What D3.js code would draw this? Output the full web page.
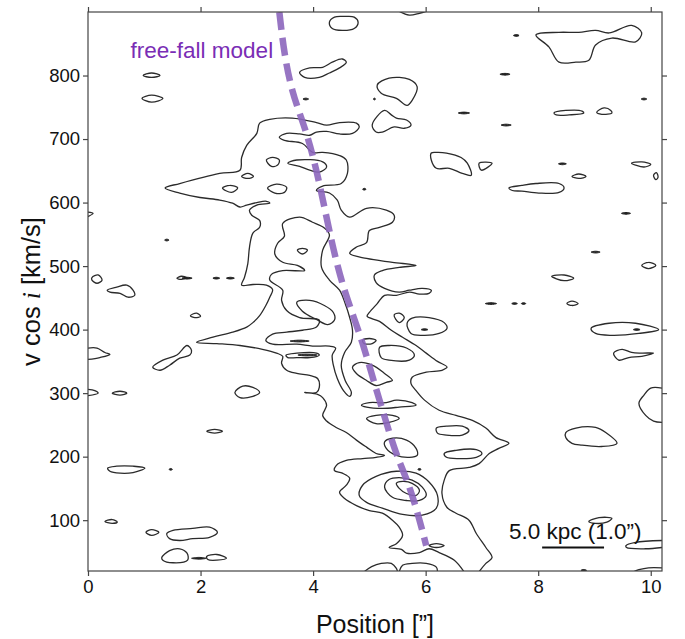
<!DOCTYPE html>
<html><head><meta charset="utf-8">
<script src="https://cdn.jsdelivr.net/npm/d3@7"></script>
<style>
html,body{margin:0;padding:0;background:#fff;}
svg{display:block;font-family:"Liberation Sans",Arial,Helvetica,sans-serif;}
</style></head>
<body>
<svg id="chart" width="685" height="639"></svg>
<script>
// ---- axes / ticks ----
const xDomain = [0, 10.2];
const yDomain = [20, 900];
const xTicks = [0, 2, 4, 6, 8, 10];
const yTicks = [100, 200, 300, 400, 500, 600, 700, 800];

// ---- main (lowest-level) contour: [position, velocity] ----
const mainContour = [[6.95,19],[7.07,32],[7.18,41],[7.07,57],[6.90,79],[6.77,100],[6.54,111],[6.38,120],[6.29,142],[6.33,163],[6.42,178],[6.77,183],[6.95,189],[7.13,205],[7.30,213],[7.48,221],[7.25,230],[7.07,245],[6.83,257],[6.54,265],[6.24,273],[5.98,289],[5.83,304],[5.74,315],[5.76,325],[6.01,333],[6.29,336],[6.38,341],[6.21,350],[6.01,363],[5.83,375],[5.59,388],[5.39,399],[5.18,413],[4.96,421],[5.00,427],[5.14,441],[5.27,454],[5.48,454],[5.71,459],[5.89,456],[6.06,457],[6.10,462],[5.94,465],[5.71,462],[5.53,459],[5.27,465],[5.12,474],[5.09,486],[5.23,493],[5.53,498],[5.83,501],[5.41,506],[4.95,512],[4.65,520],[4.77,530],[4.95,537],[5.00,556],[5.18,561],[5.41,569],[5.44,580],[5.30,588],[4.95,591],[4.65,577],[4.50,588],[4.43,604],[4.29,615],[4.06,619],[4.17,626],[4.50,630],[4.61,646],[4.59,667],[4.47,674],[4.17,679],[3.99,679],[3.81,693],[3.49,698],[3.40,703],[3.53,709],[3.76,708],[3.94,706],[4.06,711],[4.24,712],[4.47,708],[4.70,709],[4.82,719],[4.77,725],[4.47,726],[4.24,722],[4.06,726],[3.63,733],[3.23,731],[3.05,725],[3.00,709],[2.82,690],[2.73,671],[2.70,651],[2.34,646],[1.63,630],[1.37,623],[1.63,615],[1.99,608],[2.34,604],[2.57,599],[2.70,593],[2.82,596],[3.00,600],[3.17,602],[3.23,599],[3.00,596],[2.87,588],[2.91,580],[3.05,572],[3.05,561],[2.93,552],[2.87,530],[2.84,504],[2.78,482],[2.73,470],[2.93,471],[3.17,470],[3.28,463],[3.23,451],[3.16,438],[3.05,422],[2.93,411],[2.82,404],[2.57,396],[2.22,388],[1.93,380],[2.29,378],[2.70,375],[3.10,369],[3.35,363],[3.46,358],[3.44,347],[3.53,336],[3.71,331],[3.94,328],[4.08,323],[4.11,309],[4.06,301],[3.85,301],[4.08,298],[4.17,293],[4.24,281],[4.17,265],[4.24,256],[4.41,246],[4.59,238],[4.77,226],[4.95,215],[5.12,205],[5.27,202],[5.12,199],[4.88,197],[4.59,194],[4.41,186],[4.38,178],[4.52,174],[4.65,166],[4.59,155],[4.47,144],[4.56,134],[4.77,123],[5.00,115],[5.23,111],[5.41,100],[5.53,89],[5.59,76],[5.48,63],[5.35,57],[5.57,54],[5.66,48],[5.89,49],[6.06,55],[6.24,49],[6.51,37],[6.68,19]];

// ---- open contours cut by the frame ----
const edgeContours = [
  [[4.91,19],[5.04,27],[5.21,32],[5.39,32],[5.48,24],[5.50,19]],
  [[5.53,19],[5.59,29],[5.76,32],[6.01,32],[6.19,26],[6.21,19]],
  [[10.2,308],[10.0,308],[9.88,297],[9.79,284],[9.91,265],[10.05,256],[10.2,254]],
  [[10.2,68],[9.73,65],[9.56,60],[9.57,57],[9.91,55],[10.2,57]],
  [[9.70,19],[9.79,22],[9.96,25],[10.2,25]],
  [[0,371],[0.16,371],[0.30,364],[0.39,361],[0.21,356],[0,353]],
  [[0,306],[0.12,304],[0.18,300],[0,296]],
  [[0,585],[0.09,583],[0,578]],
  [[5.53,901],[5.71,895],[5.89,898],[6.01,901]]
];

// ---- higher-level contours inside the emission ----
const innerContours = [
  [[3.46,567],[3.76,577],[3.99,569],[4.20,560],[4.29,549],[4.17,525],[4.15,498],[4.29,478],[4.47,462],[4.57,441],[4.65,419],[4.70,399],[4.68,380],[4.56,364],[4.50,344],[4.57,320],[4.68,301],[4.65,295],[4.54,304],[4.43,323],[4.36,344],[4.34,360],[4.40,371],[4.29,374],[3.99,374],[3.71,377],[3.28,377],[3.16,383],[3.28,393],[3.53,396],[3.81,399],[4.06,404],[4.11,415],[3.76,419],[3.53,430],[3.44,446],[3.46,462],[3.23,478],[3.26,487],[3.46,493],[3.85,493],[3.72,501],[3.46,506],[3.32,519],[3.37,536],[3.49,547]],
  [[3.52,360],[3.71,363],[4.06,363],[4.11,360],[3.94,356],[3.71,356],[3.55,356]],
  [[3.71,443],[3.94,446],[4.20,438],[4.36,427],[4.38,415],[4.26,408],[4.06,416],[3.81,429]],
  [[4.70,341],[4.82,348],[5.05,344],[5.27,331],[5.41,320],[5.30,317],[5.12,312],[4.95,320],[4.77,331]],
  [[4.86,281],[5.00,285],[5.30,285],[5.48,289],[5.76,285],[5.83,281],[5.53,278],[5.23,276],[4.95,278]],
  [[4.95,260],[5.12,265],[5.41,265],[5.53,260],[5.35,254],[5.12,252]],
  [[4.88,383],[5.00,386],[5.12,383],[5.05,378],[4.91,378]],
  [[5.27,223],[5.41,229],[5.66,226],[5.83,213],[5.85,202],[5.71,199],[5.48,202],[5.30,213]],
  [[4.82,139],[4.88,155],[5.12,169],[5.48,177],[5.83,174],[6.06,160],[6.21,139],[6.19,119],[5.94,108],[5.59,109],[5.23,119],[4.95,128]],
  [[5.27,152],[5.35,164],[5.53,167],[5.76,163],[5.94,152],[6.01,139],[5.89,131],[5.66,131],[5.41,136]],
  [[5.48,158],[5.59,161],[5.76,158],[5.89,147],[5.83,139],[5.66,142],[5.53,150]],
  [[3.55,662],[3.71,667],[4.17,664],[4.24,656],[4.11,648],[3.94,651],[3.76,657]],
  [[3.17,667],[3.28,671],[3.40,667],[3.37,659],[3.26,657]],
  [[3.19,623],[3.35,629],[3.53,624],[3.49,616],[3.32,615]],
  [[2.73,641],[2.84,646],[2.94,641],[2.84,638]],
  [[2.39,623],[2.52,627],[2.66,623],[2.55,616]],
  [[3.72,525],[3.81,528],[3.90,525],[3.81,519]],
  [[5.18,372],[5.35,375],[5.66,371],[5.80,360],[5.71,352],[5.35,352],[5.21,356]],
  [[5.44,423],[5.53,426],[5.62,419],[5.53,411]],
  [[5.67,410],[5.76,418],[6.06,419],[6.33,411],[6.38,402],[6.24,394],[5.94,391],[5.74,394]],
  [[6.19,245],[6.37,248],[6.65,248],[6.77,241],[6.65,234],[6.37,234],[6.21,237]],
  [[6.33,205],[6.54,210],[6.90,211],[7.00,205],[6.90,199],[6.60,197],[6.37,199]],
  [[6.06,60],[6.19,63],[6.33,60],[6.19,57]]
];

// ---- isolated noise contours ----
const blobs = [
  [[0.98,800],[1.13,804],[1.28,800],[1.13,797]],
  [[0.96,764],[1.13,769],[1.33,764],[1.13,758]],
  [[4.29,884],[4.38,892],[4.56,893],[4.73,892],[4.80,884],[4.73,874],[4.52,871],[4.34,874]],
  [[3.76,805],[3.94,812],[4.17,813],[4.34,821],[4.52,826],[4.59,821],[4.47,812],[4.29,804],[4.11,797],[3.85,797]],
  [[5.14,785],[5.35,796],[5.71,794],[5.85,782],[5.76,761],[5.67,753],[5.48,764],[5.21,772]],
  [[5.05,722],[5.27,745],[5.39,738],[5.48,733],[5.66,730],[5.74,722],[5.62,717],[5.44,719],[5.23,711],[5.12,711]],
  [[6.10,678],[6.19,679],[6.37,678],[6.63,671],[6.74,662],[6.81,643],[6.65,646],[6.42,654],[6.19,654],[6.10,667]],
  [[6.95,662],[7.18,662],[6.99,651]],
  [[7.96,864],[8.37,868],[8.72,868],[9.02,871],[9.26,867],[9.66,879],[9.84,867],[9.73,853],[9.31,859],[9.02,848],[8.90,824],[8.67,821],[8.37,821],[8.19,845]],
  [[8.28,741],[8.49,745],[8.78,744],[8.81,741],[8.55,738],[8.32,738]],
  [[9.04,742],[9.17,749],[9.29,745],[9.31,741],[9.13,739]],
  [[7.48,623],[7.71,627],[7.96,630],[8.37,630],[8.46,623],[8.37,616],[8.01,615],[7.71,618],[7.54,619]],
  [[8.60,641],[8.72,645],[8.85,641],[8.72,638]],
  [[9.66,662],[9.84,664],[10.0,660],[9.88,656]],
  [[10.05,643],[10.10,647],[10.13,640],[10.09,636]],
  [[9.84,501],[9.96,506],[10.09,501],[9.96,496]],
  [[8.24,484],[8.46,486],[8.63,481],[8.46,477]],
  [[8.51,441],[8.60,445],[8.71,441],[8.60,438]],
  [[8.94,402],[9.26,410],[9.73,410],[10.14,400],[9.79,394],[9.31,391],[9.02,394]],
  [[9.34,363],[9.49,369],[9.66,364],[9.84,363],[10.05,363],[9.84,358],[9.61,356],[9.43,352]],
  [[8.49,238],[8.67,245],[9.02,246],[9.20,238],[9.40,221],[9.13,216],[8.78,218],[8.60,221],[8.49,230]],
  [[8.90,98],[9.08,104],[9.31,103],[9.22,97],[9.02,95]],
  [[1.82,422],[1.93,426],[2.00,421],[1.90,419]],
  [[1.15,341],[1.33,352],[1.58,360],[1.76,375],[1.84,367],[1.81,360],[1.63,355],[1.45,344],[1.28,336]],
  [[0.43,300],[0.57,303],[0.69,300],[0.57,297]],
  [[2.61,301],[2.75,311],[2.93,309],[3.05,301],[2.93,295],[2.70,293]],
  [[2.11,240],[2.25,243],[2.39,240],[2.25,237]],
  [[0.35,182],[0.51,185],[0.80,185],[1.01,182],[0.80,175],[0.57,174],[0.39,177]],
  [[0.30,98],[0.43,101],[0.52,97],[0.43,95]],
  [[1.03,81],[1.13,85],[1.26,81],[1.13,76]],
  [[1.40,79],[1.51,84],[1.86,87],[2.16,89],[2.30,81],[2.16,73],[1.86,71],[1.63,68],[1.45,71]],
  [[1.31,41],[1.45,52],[1.63,55],[1.76,48],[1.77,37],[1.51,33],[1.33,37]],
  [[2.11,43],[2.29,46],[2.46,40],[2.29,37],[2.13,38]],
  [[0.07,482],[0.18,486],[0.25,478],[0.16,473],[0.07,478]],
  [[0.34,462],[0.51,467],[0.69,470],[0.80,462],[0.83,454],[0.71,451],[0.57,457],[0.39,459]],
  [[1.58,481],[1.66,484],[1.75,482],[1.66,479]]
];

// ---- tiny dark peaks: [position, velocity, half-length in position] ----
const specks = [
  [3.87,763,0.05],[7.41,802,0.09],[6.68,741,0.10],[7.43,722,0.09],[7.61,863,0.05],[9.88,763,0.05],
  [8.43,661,0.07],[9.56,583,0.08],[9.02,522,0.08],[7.16,441,0.10],[7.58,441,0.05],[7.74,441,0.04],
  [9.75,400,0.06],[5.98,400,0.06],[1.47,180,0.03],[1.97,40,0.13],[1.40,541,0.04],[1.76,481,0.09],
  [2.28,481,0.06],[2.53,481,0.07],[3.76,382,0.17],[3.90,360,0.17],[5.89,180,0.03],[8.81,21,0.05],
  [4.91,621,0.03],[5.09,763,0.02]
];

// ---- free-fall model ----
const freeFall = [[3.40,900],[3.63,777],[3.88,709],[4.56,462],[4.88,378],[5.18,289],[5.48,205],[5.71,152],[6.01,60]];

// ---- scale bar ----
const scaleBar = [[8.07,57],[9.17,57]];

// ================= drawing =================
const svg = d3.select("#chart");
const m = {left:88, right:23, top:12, bottom:68};
const W = 685, H = 639;
const x = d3.scaleLinear().domain(xDomain).range([m.left, W - m.right]);
const y = d3.scaleLinear().domain(yDomain).range([H - m.bottom, m.top]);

svg.append("defs").append("clipPath").attr("id","clip")
  .append("rect").attr("x",x(xDomain[0])).attr("y",y(yDomain[1]))
  .attr("width",x(xDomain[1])-x(xDomain[0])).attr("height",y(yDomain[0])-y(yDomain[1]));

const g = svg.append("g").attr("clip-path","url(#clip)");

const openLine = d3.line().x(d=>x(d[0])).y(d=>y(d[1])).curve(d3.curveCatmullRom.alpha(0.5));
const closedLine = d3.line().x(d=>x(d[0])).y(d=>y(d[1])).curve(d3.curveCatmullRomClosed.alpha(0.5));

const cStyle = sel => sel.attr("fill","none").attr("stroke","#2b2b2b").attr("stroke-width",1.3).attr("stroke-linejoin","round");

g.append("path").datum(mainContour).attr("d",openLine).call(cStyle);
g.selectAll(".edge").data(edgeContours).join("path").attr("class","edge").attr("d",openLine).call(cStyle);
g.selectAll(".inner").data(innerContours).join("path").attr("class","inner").attr("d",closedLine).call(cStyle);
g.selectAll(".blob").data(blobs).join("path").attr("class","blob").attr("d",closedLine).call(cStyle);
g.selectAll(".speck").data(specks).join("path").attr("class","speck")
  .attr("d", d => closedLine([[d[0]-d[2],d[1]],[d[0],d[1]+1.4],[d[0]+d[2],d[1]],[d[0],d[1]-1.4]]))
  .attr("fill","#222").attr("stroke","#222").attr("stroke-width",1);

// free-fall dashed line
g.append("path").datum(freeFall).attr("d", d3.line().x(d=>x(d[0])).y(d=>y(d[1])).curve(d3.curveMonotoneY))
  .attr("fill","none").attr("stroke","#8c66bd").attr("stroke-opacity",0.9)
  .attr("stroke-width",6.5).attr("stroke-dasharray","18,8");

// label of model
svg.append("text").attr("x", x(3.29)).attr("y", y(828)).attr("text-anchor","end")
  .attr("font-size",22.5).attr("fill","#7a2db5").text("free-fall model");

// scale bar
svg.append("line").attr("x1",x(scaleBar[0][0])).attr("x2",x(scaleBar[1][0]))
  .attr("y1",y(scaleBar[0][1])).attr("y2",y(scaleBar[1][1])).attr("stroke","#111").attr("stroke-width",2);
svg.append("text").attr("x", x(7.48)).attr("y", y(71)).attr("font-size",22.5).attr("fill","#111").text("5.0 kpc (1.0\u201D)");

// frame
svg.append("rect").attr("x",x(xDomain[0])).attr("y",y(yDomain[1]))
  .attr("width",x(xDomain[1])-x(xDomain[0])).attr("height",y(yDomain[0])-y(yDomain[1]))
  .attr("fill","none").attr("stroke","#444").attr("stroke-width",1.2);

// axes
const ax = (sel) => { sel.select(".domain").remove(); sel.selectAll(".tick line").attr("stroke","#444").attr("stroke-width",1.2); sel.selectAll(".tick text").attr("fill","#111").attr("font-size",18.5).attr("font-family","Liberation Sans, Arial, sans-serif"); };
svg.append("g").attr("transform",`translate(0,${y(yDomain[0])})`).call(d3.axisBottom(x).tickValues(xTicks).tickSize(5).tickPadding(4).tickFormat(d3.format("d"))).call(ax);
svg.append("g").attr("transform",`translate(0,${y(yDomain[1])})`).call(d3.axisTop(x).tickValues(xTicks).tickSize(5).tickFormat("")).call(ax);
svg.append("g").attr("transform",`translate(${x(xDomain[0])},0)`).call(d3.axisLeft(y).tickValues(yTicks).tickSize(5).tickPadding(3).tickFormat(d3.format("d"))).call(ax);
svg.append("g").attr("transform",`translate(${x(xDomain[1])},0)`).call(d3.axisRight(y).tickValues(yTicks).tickSize(5).tickFormat("")).call(ax);

// axis titles
svg.append("text").attr("x", (x(xDomain[0])+x(xDomain[1]))/2).attr("y", 633).attr("text-anchor","middle")
  .attr("font-size",25).attr("fill","#111").text("Position [\u201D]");
const yl = svg.append("text").attr("transform",`translate(40,${(y(yDomain[0])+y(yDomain[1]))/2}) rotate(-90)`)
  .attr("text-anchor","middle").attr("font-size",25.5).attr("fill","#111");
yl.append("tspan").text("v cos ");
yl.append("tspan").attr("font-style","italic").attr("font-family","Liberation Serif, serif").text("i");
yl.append("tspan").text(" [km/s]");
</script>
</body></html>
